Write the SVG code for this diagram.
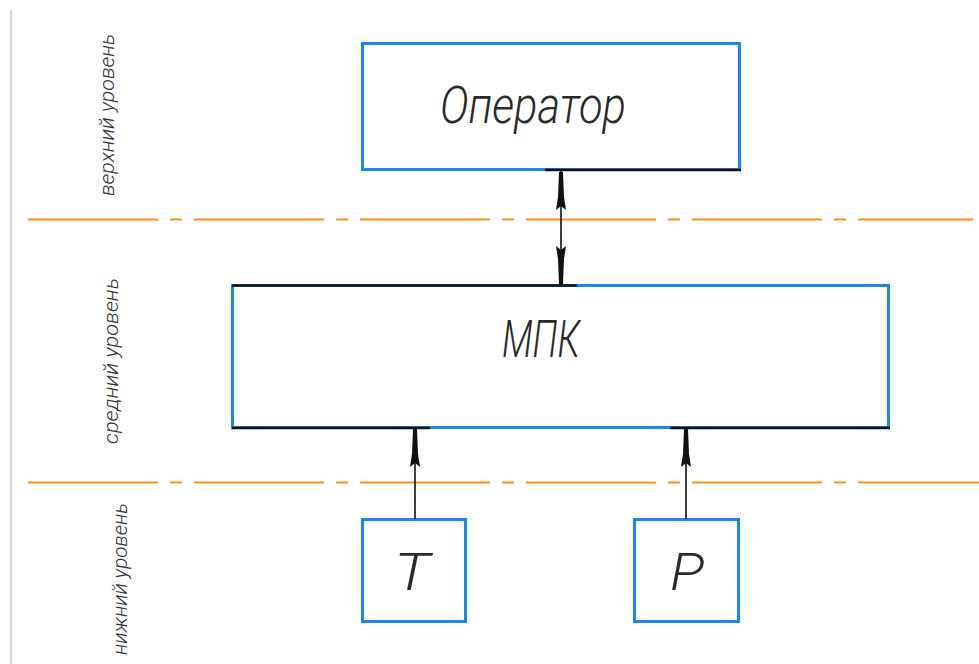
<svg xmlns="http://www.w3.org/2000/svg" width="979" height="664" viewBox="0 0 979 664">
<style>
.box{fill:none;stroke:#1a86f4;stroke-width:3}
.blk{stroke:#111;stroke-width:2.5;fill:none}
.axis{stroke:#ff8c1a;stroke-width:2;stroke-dasharray:130 12 12 12;fill:none}
.lbl{font-family:"Roboto","Lato","Liberation Sans",sans-serif;font-weight:300;font-style:italic;fill:#333}
.big{font-family:"Roboto","Lato","Liberation Sans",sans-serif;font-weight:300;font-style:italic;fill:#2a2a2a;font-size:52px}
.conn{stroke:#111;stroke-width:1.6;fill:none}
.head{fill:#111}
</style>
<rect width="979" height="664" fill="#fff"/>
<line x1="11" y1="10" x2="11" y2="664" stroke="#d8d8d8" stroke-width="2.5"/>
<g id="levels">
<line class="axis" x1="28" y1="219.5" x2="973" y2="219.5"/>
<line class="axis" x1="28" y1="482.5" x2="979" y2="482.5"/>
<text class="lbl" font-size="20" transform="translate(114,115) rotate(-90)" text-anchor="middle" textLength="162" lengthAdjust="spacingAndGlyphs">верхний уровень</text>
<text class="lbl" font-size="20" transform="translate(118,361) rotate(-90)" text-anchor="middle" textLength="166" lengthAdjust="spacingAndGlyphs">средний уровень</text>
<text class="lbl" font-size="20" transform="translate(127,579) rotate(-90)" text-anchor="middle" textLength="152" lengthAdjust="spacingAndGlyphs">нижний уровень</text>
</g>
<g id="operator">
<rect class="box" x="362.5" y="43.5" width="377" height="126"/>
<line class="blk" x1="545" y1="170" x2="741" y2="170"/>
<text class="big" x="440" y="123" textLength="186" lengthAdjust="spacingAndGlyphs">Оператор</text>
</g>
<g id="mpk">
<rect class="box" x="232.5" y="285.5" width="656" height="142"/>
<line class="blk" x1="232" y1="285.5" x2="577" y2="285.5"/>
<line class="blk" x1="232" y1="428" x2="430" y2="428"/>
<line class="blk" x1="670" y1="428" x2="890" y2="428"/>
<text class="big" x="502" y="357" textLength="78" lengthAdjust="spacingAndGlyphs">МПК</text>
</g>
<g id="t">
<rect class="box" x="362.5" y="519.5" width="103" height="102"/>
<text class="big" x="394" y="590" font-size="50" textLength="36" lengthAdjust="spacingAndGlyphs">Т</text>
</g>
<g id="p">
<rect class="box" x="634.5" y="519.5" width="104" height="102"/>
<text class="big" x="670" y="590" font-size="50" textLength="34" lengthAdjust="spacingAndGlyphs">Р</text>
</g>
<g id="connectors">
<line class="conn" x1="561" y1="171" x2="561" y2="285"/>
<polygon class="head" points="559,172 563,172 564,197 566,210 561,206 556,210 558,197"/>
<polygon class="head" points="559,284 563,284 564,259 566,246 561,250 556,246 558,259"/>
<line class="conn" x1="415" y1="429" x2="415" y2="519"/>
<polygon class="head" points="413,429 417,429 418,454 420,467 415,463 410,467 412,454"/>
<line class="conn" x1="686" y1="429" x2="686" y2="519"/>
<polygon class="head" points="684,429 688,429 689,454 691,467 686,463 681,467 683,454"/>
</g>
</svg>
